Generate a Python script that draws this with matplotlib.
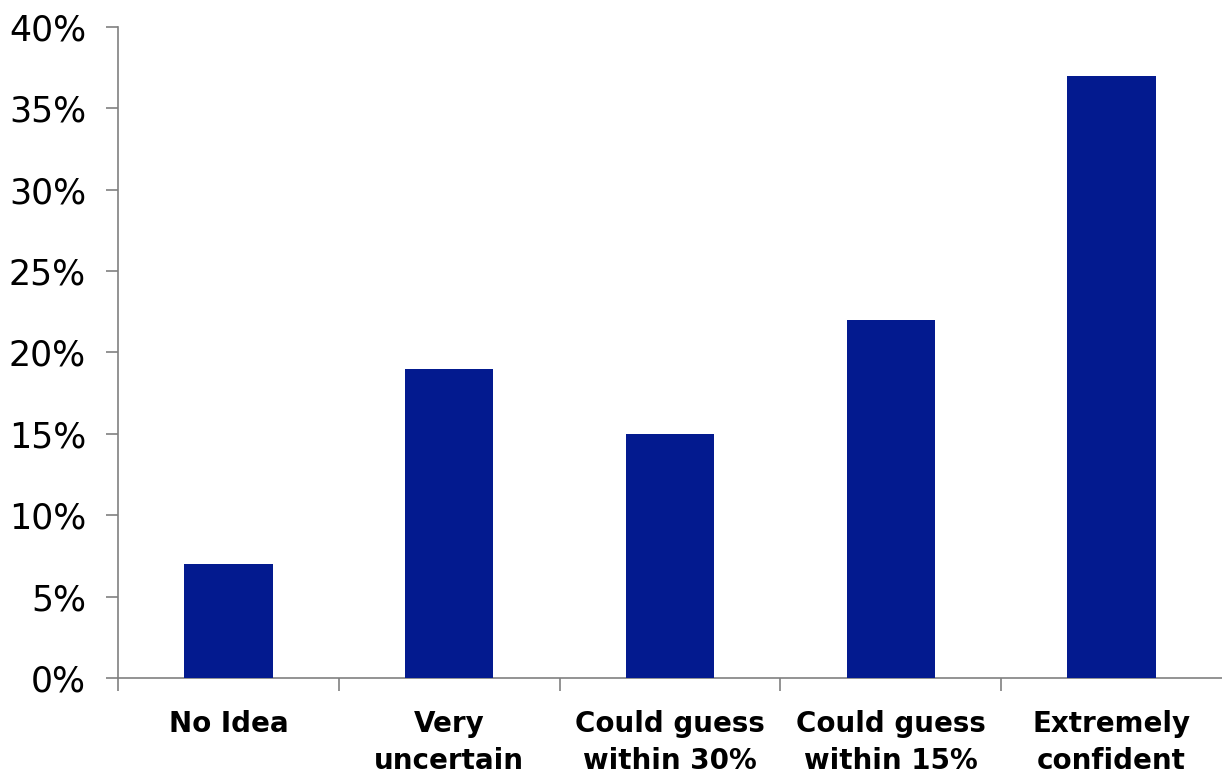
import matplotlib
matplotlib.use("Agg")
import matplotlib.pyplot as plt
import numpy as np
from matplotlib.ticker import FuncFormatter, FixedLocator

# answer categories and share of respondents (%)
categories = ["No Idea", "Very\nuncertain", "Could guess\nwithin 30%",
              "Could guess\nwithin 15%", "Extremely\nconfident"]
shares = [7, 19, 15, 22, 37]

plt.rcParams['font.family'] = ['DejaVu Sans']

fig = plt.figure(figsize=(12.22, 7.76), dpi=100)
ax = fig.add_axes([118/1222, 98/776, 1 - 118/1222, (678 - 27)/776])

x = np.arange(len(categories))
ax.bar(x, shares, width=0.4, color="#031A8F", zorder=3)

ax.set_xlim(-0.5, len(categories) - 0.5)
ax.set_ylim(0, 40)
ax.set_yticks(np.arange(0, 41, 5))
ax.yaxis.set_major_formatter(FuncFormatter(lambda v, p: f"{v:.0f}%"))

# labels at bar centres, tick marks at category boundaries
ax.set_xticks(x)
ax.set_xticklabels(categories, fontsize=20, fontweight="bold", linespacing=1.4)
ax.xaxis.set_minor_locator(FixedLocator(np.arange(len(categories)) - 0.5))
ax.tick_params(axis="x", which="major", length=0, pad=23)
ax.tick_params(axis="x", which="minor", length=9, width=1.2, color="#808080")
ax.tick_params(axis="y", length=9, width=1.2, color="#808080", labelsize=25, pad=14)

for side in ["top", "right"]:
    ax.spines[side].set_visible(False)
for side in ["left", "bottom"]:
    ax.spines[side].set_color("#808080")
    ax.spines[side].set_linewidth(1.2)

fig.savefig("out.png", dpi=100)
